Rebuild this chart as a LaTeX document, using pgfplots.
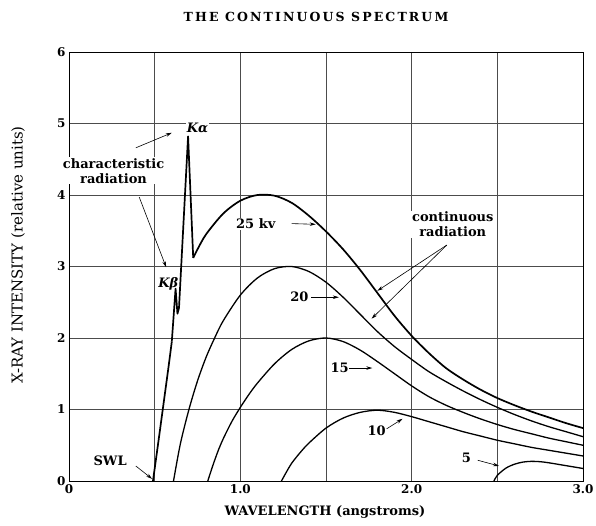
\documentclass[border=0pt]{standalone}
\usepackage{fontspec}
\setmainfont{DejaVu Serif}
\usepackage{pgfplots}
\pgfplotsset{compat=1.18}
\usetikzlibrary{arrows.meta}

\pgfplotstableread{
x y
0.49 0
0.52 0.52
0.55 1.05
0.58 1.58
0.60 1.95
}\kvAa
\pgfplotstableread{
x y
0.60 1.95
0.622 2.69
0.633 2.34
0.642 2.42
0.695 4.82
0.725 3.12
}\kvAb
\pgfplotstableread{
x y
0.725 3.12
0.75 3.24
0.80 3.45
0.90 3.74
1.00 3.92
1.10 4.0
1.20 3.99
1.30 3.89
1.40 3.71
1.50 3.49
1.60 3.24
1.70 2.95
1.80 2.63
1.90 2.31
2.00 2.03
2.10 1.79
2.20 1.58
2.30 1.42
2.40 1.28
2.50 1.16
2.60 1.06
2.70 0.97
2.80 0.89
2.90 0.81
3.00 0.74
}\kvAc
\pgfplotstableread{
x y
0.61 0
0.65 0.52
0.70 1.0
0.75 1.4
0.80 1.73
0.85 2.0
0.90 2.24
1.00 2.6
1.10 2.84
1.20 2.97
1.30 3.0
1.40 2.93
1.50 2.78
1.60 2.57
1.70 2.33
1.80 2.09
1.90 1.88
2.00 1.70
2.10 1.53
2.20 1.39
2.30 1.26
2.40 1.14
2.50 1.03
2.60 0.93
2.70 0.84
2.80 0.76
2.90 0.69
3.00 0.62
}\kvB
\pgfplotstableread{
x y
0.81 0
0.84 0.22
0.87 0.42
0.90 0.59
0.95 0.83
1.00 1.03
1.05 1.21
1.10 1.37
1.20 1.64
1.30 1.84
1.40 1.96
1.50 2.0
1.60 1.95
1.70 1.83
1.80 1.67
1.90 1.5
2.00 1.33
2.10 1.18
2.20 1.06
2.30 0.96
2.40 0.87
2.50 0.79
2.60 0.72
2.70 0.66
2.80 0.60
2.90 0.55
3.00 0.50
}\kvC
\pgfplotstableread{
x y
1.24 0
1.27 0.13
1.30 0.25
1.35 0.40
1.40 0.53
1.50 0.74
1.60 0.88
1.70 0.96
1.80 0.99
1.90 0.96
2.00 0.90
2.10 0.83
2.20 0.76
2.30 0.69
2.40 0.63
2.50 0.57
2.60 0.52
2.70 0.47
2.80 0.43
2.90 0.39
3.00 0.35
}\kvD
\pgfplotstableread{
x y
2.48 0
2.50 0.08
2.55 0.18
2.60 0.235
2.65 0.265
2.70 0.275
2.75 0.27
2.80 0.255
2.90 0.215
3.00 0.175
}\kvE

\begin{document}
\begin{tikzpicture}
\begin{axis}[
  scale only axis, width=514pt, height=429pt,
  xmin=0, xmax=3, ymin=0, ymax=6,
  xtick={0,1,2,3}, xticklabels={0,1.0,2.0,3.0},
  minor xtick={0.5,1.5,2.5},
  ytick={0,1,2,3,4,5,6},
  grid=both,
  major grid style={line width=0.6pt, black!70},
  minor grid style={line width=0.6pt, black!70},
  axis line style={line width=0.8pt},
  major tick length=0pt, minor tick length=0pt,
  tick label style={font=\bfseries\fontsize{12}{14}\selectfont},
  /pgf/number format/assume math mode=true,
  clip=false,
]
\addplot[black, line width=1.7pt, smooth] table {\kvAa};
\addplot[black, line width=1.7pt, sharp plot, line join=round] table {\kvAb};
\addplot[black, line width=1.7pt, smooth] table {\kvAc};
\addplot[black, line width=1.3pt, smooth] table {\kvB};
\addplot[black, line width=1.3pt, smooth] table {\kvC};
\addplot[black, line width=1.3pt, smooth] table {\kvD};
\addplot[black, line width=1.3pt, smooth] table {\kvE};

\tikzset{lab/.style={font=\bfseries\fontsize{13}{15}\selectfont, fill=white, inner sep=1pt},
  arr/.style={-{Stealth[length=6pt,width=3.5pt]}, line width=0.6pt}}
\node[lab] at (axis cs:0.75,4.94) {\textit{Kα}};
\node[lab, align=center] at (axis cs:0.26,4.34) {characteristic\\radiation};
\draw[arr] (axis cs:0.39,4.66) -- (axis cs:0.60,4.87);
\draw[arr] (axis cs:0.41,3.97) -- (axis cs:0.567,2.99);
\node[lab, fill=none] at (axis cs:0.58,2.76) {\textit{Kβ}};
\node[lab] at (axis cs:1.09,3.6) {25 kv};
\draw[arr] (axis cs:1.30,3.6) -- (axis cs:1.44,3.59);
\node[lab] at (axis cs:1.345,2.57) {20};
\draw[arr] (axis cs:1.415,2.57) -- (axis cs:1.575,2.57);
\node[lab] at (axis cs:1.58,1.58) {15};
\draw[arr] (axis cs:1.637,1.58) -- (axis cs:1.77,1.58);
\node[lab] at (axis cs:1.795,0.70) {10};
\draw[arr] (axis cs:1.854,0.73) -- (axis cs:1.947,0.87);
\node[lab] at (axis cs:2.32,0.32) {5};
\draw[arr] (axis cs:2.386,0.29) -- (axis cs:2.51,0.21);
\node[lab] at (axis cs:0.24,0.28) {SWL};
\draw[arr] (axis cs:0.39,0.21) -- (axis cs:0.485,0.03);
\node[lab, align=center] at (axis cs:2.24,3.59) {continuous\\radiation};
\draw[arr] (axis cs:2.205,3.30) -- (axis cs:1.80,2.66);
\draw[arr] (axis cs:2.205,3.30) -- (axis cs:1.766,2.27);
\end{axis}
\node[font=\bfseries\fontsize{12.5}{14}\selectfont, anchor=center] at (247pt,464pt) {\addfontfeature{LetterSpace=17}THE CONTINUOUS SPECTRUM};
\node[font=\bfseries\fontsize{13}{15}\selectfont] at (256pt,-31pt) {WAVELENGTH (angstroms)};
\node[font=\fontsize{15}{17}\selectfont, rotate=90] at (-51pt,226pt) {X-RAY INTENSITY (relative units)};
\pgfresetboundingbox
\path[use as bounding box] (-69pt,-44pt) rectangle (527pt,481pt);
\end{tikzpicture}
\end{document}
